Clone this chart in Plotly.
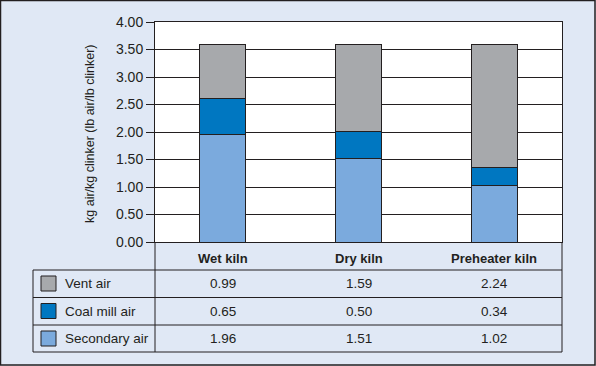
import plotly.graph_objects as go

categories = ["Wet kiln", "Dry kiln", "Preheater kiln"]
series_names = ["Vent air", "Coal mill air", "Secondary air"]
vent_air = [0.99, 1.59, 2.24]
coal_mill_air = [0.65, 0.50, 0.34]
secondary_air = [1.96, 1.51, 1.02]
y_ticks = [0, 0.5, 1.0, 1.5, 2.0, 2.5, 3.0, 3.5, 4.0]
y_title = "kg air/kg clinker (lb air/lb clinker)"

BG = "#E0E8F5"
DARK = "#231F20"
colors = {"Vent air": "#A7A9AC", "Coal mill air": "#0077C1", "Secondary air": "#7BAADD"}
values = {"Vent air": vent_air, "Coal mill air": coal_mill_air, "Secondary air": secondary_air}

W, H = 596, 366
L, R, T, B = 155, 562, 22, 242
pw, ph = R - L, B - T

def px(x):
    return (x - L) / pw

def py(y):
    return (B - y) / ph

fig = go.Figure()
for name in ["Secondary air", "Coal mill air", "Vent air"]:
    fig.add_trace(go.Bar(
        x=categories, y=values[name], name=name,
        marker=dict(color=colors[name], line=dict(color=DARK, width=1)),
        showlegend=False, hoverinfo="skip",
    ))

FONT = "Liberation Sans"
shapes = []
annotations = []

# outer frame
shapes.append(dict(type="rect", xref="paper", yref="paper",
                   x0=px(0.5), x1=px(W - 1), y0=py(H - 1), y1=py(0.5),
                   line=dict(color=DARK, width=1.5), layer="below"))

# table lines
row_lines = [270, 297.5, 325, 352]
for yy in row_lines:
    shapes.append(dict(type="line", xref="paper", yref="paper",
                       x0=px(33), x1=px(R), y0=py(yy), y1=py(yy),
                       line=dict(color=DARK, width=1)))
shapes.append(dict(type="line", xref="paper", yref="paper",
                   x0=px(33), x1=px(33), y0=py(270), y1=py(352),
                   line=dict(color=DARK, width=1)))
shapes.append(dict(type="line", xref="paper", yref="paper",
                   x0=0, x1=0, y0=0, y1=py(352),
                   line=dict(color=DARK, width=1)))
shapes.append(dict(type="line", xref="paper", yref="paper",
                   x0=1, x1=1, y0=0, y1=py(352),
                   line=dict(color=DARK, width=1)))

row_centers = [283.5, 311, 338.5]
for i, name in enumerate(series_names):
    yc = row_centers[i]
    shapes.append(dict(type="rect", xref="paper", yref="paper",
                       x0=px(41), x1=px(56), y0=py(yc + 7.5), y1=py(yc - 7.5),
                       fillcolor=colors[name], line=dict(color=DARK, width=1)))
    annotations.append(dict(xref="paper", yref="paper", x=px(63), y=py(yc),
                            text=name, showarrow=False, xanchor="left", yanchor="middle",
                            font=dict(family=FONT, size=13.5, color=DARK)))
    for j, cat in enumerate(categories):
        annotations.append(dict(xref="x", yref="paper", x=cat, y=py(yc),
                                text=f"{values[name][j]:.2f}", showarrow=False,
                                xanchor="center", yanchor="middle",
                                font=dict(family=FONT, size=13.5, color=DARK)))

for cat in categories:
    annotations.append(dict(xref="x", yref="paper", x=cat, y=py(258),
                            text=f"<b>{cat}</b>", showarrow=False,
                            xanchor="center", yanchor="middle",
                            font=dict(family=FONT, size=13, color=DARK)))

annotations.append(dict(xref="paper", yref="paper", x=px(90), y=py(134),
                        text=y_title, textangle=-90, showarrow=False,
                        xanchor="center", yanchor="middle",
                        font=dict(family=FONT, size=12.5, color=DARK)))

fig.update_layout(
    width=W, height=H,
    margin=dict(l=L, r=W - R, t=T, b=H - B, pad=0),
    paper_bgcolor=BG, plot_bgcolor="white",
    barmode="stack", bargap=0.66,
    shapes=shapes, annotations=annotations,
    font=dict(family=FONT, color=DARK),
    xaxis=dict(showticklabels=False, ticks="", showgrid=False,
               showline=True, linecolor=DARK, linewidth=1, mirror=True,
               zeroline=False),
    yaxis=dict(range=[0, 4], tickvals=y_ticks, ticktext=[f"{v:.2f}" for v in y_ticks],
               ticks="outside", ticklen=8, tickcolor=DARK, tickwidth=1,
               showgrid=True, gridcolor=DARK, gridwidth=1,
               showline=True, linecolor=DARK, linewidth=1, mirror=True,
               zeroline=False, tickfont=dict(family=FONT, size=14, color=DARK)),
)

fig.write_html("out.html", config={"displayModeBar": False},
               post_script="document.body.style.margin='0';document.body.style.padding='0';")
